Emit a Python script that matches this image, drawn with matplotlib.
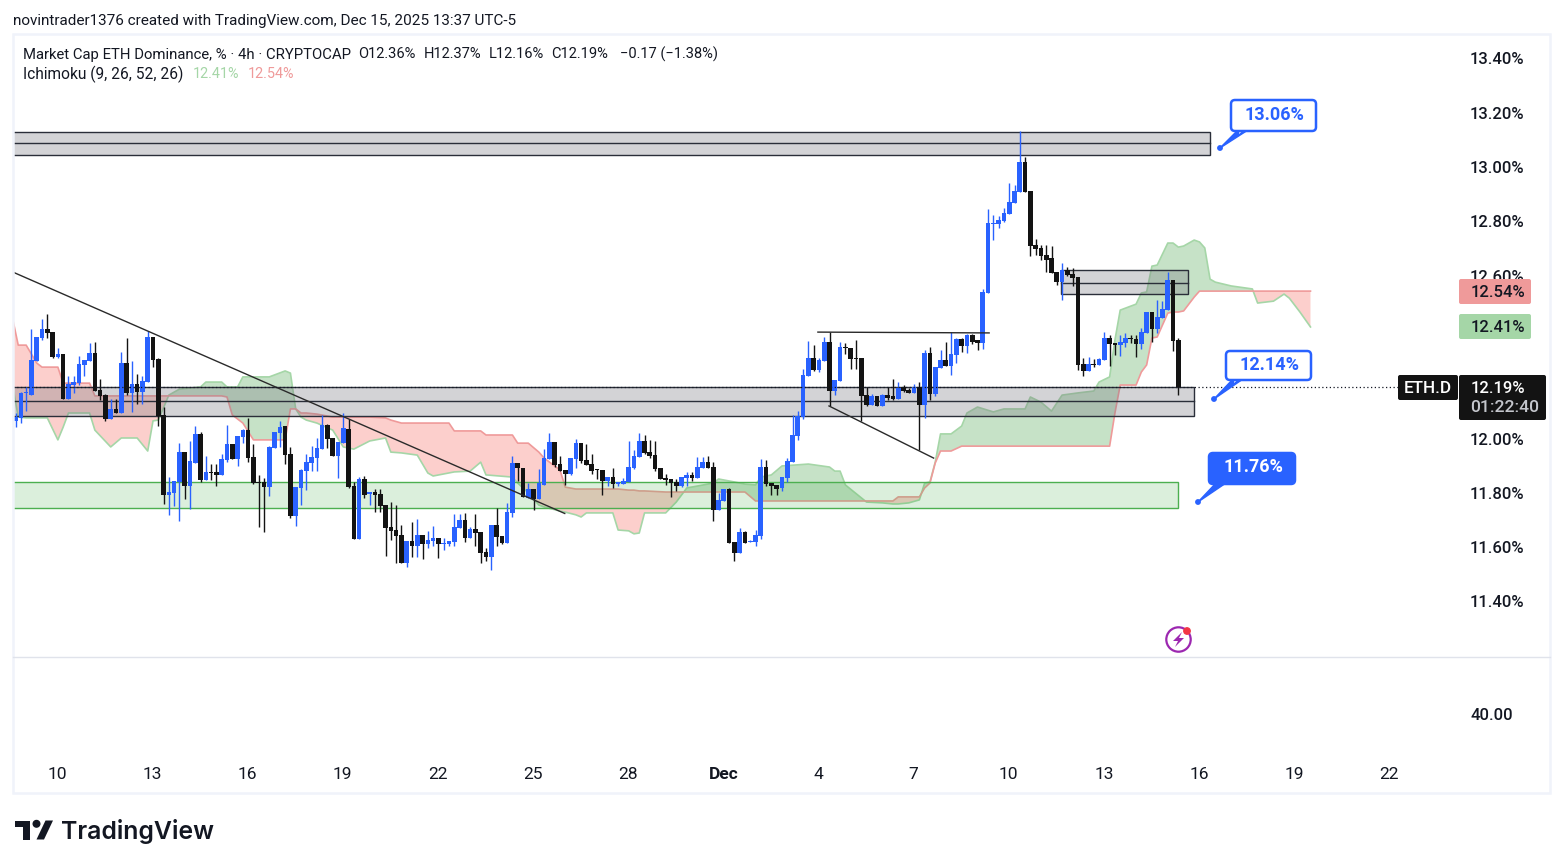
import matplotlib
matplotlib.use('Agg')
from matplotlib import pyplot as plt
from matplotlib.patches import Rectangle, FancyBboxPatch, Polygon, Circle
import numpy as np

plt.rcParams['font.family'] = ['Roboto', 'DejaVu Sans']

# candles, 4h bars
opens = [12.064, 12.077, 12.166, 12.162, 12.287, 12.370, 12.403, 12.392, 12.300, 12.311,
         12.147, 12.197, 12.204, 12.271, 12.287, 12.315, 12.179, 12.160, 12.073, 12.109,
         12.095, 12.278, 12.168, 12.201, 12.171, 12.208, 12.374, 12.293, 12.087, 11.792,
         11.799, 11.840, 11.950, 11.825, 11.910, 12.017, 11.847, 11.877, 11.877, 11.866,
         11.921, 11.980, 11.925, 12.006, 12.031, 11.932, 11.840, 11.840, 11.821, 11.965,
         12.020, 12.046, 11.943, 11.715, 11.818, 11.880, 11.910, 11.928, 11.961, 12.050,
         12.002, 11.936, 11.983, 12.035, 11.825, 11.630, 11.851, 11.796, 11.803, 11.796,
         11.755, 11.674, 11.663, 11.645, 11.543, 11.622, 11.605, 11.645, 11.613, 11.622,
         11.634, 11.613, 11.613, 11.619, 11.670, 11.700, 11.634, 11.667, 11.656, 11.582,
         11.565, 11.681, 11.641, 11.615, 11.726, 11.910, 11.891, 11.781, 11.814, 11.777,
         11.829, 11.925, 11.987, 11.906, 11.884, 11.869, 11.925, 11.983, 11.921, 11.906,
         11.886, 11.884, 11.843, 11.858, 11.832, 11.832, 11.840, 11.891, 11.932, 11.991,
         11.950, 11.939, 11.891, 11.855, 11.851, 11.840, 11.825, 11.855, 11.866, 11.855,
         11.891, 11.913, 11.895, 11.737, 11.770, 11.814, 11.619, 11.578, 11.656, 11.620,
         11.619, 11.641, 11.895, 11.836, 11.829, 11.816, 11.854, 11.913, 12.009, 12.079,
         12.230, 12.297, 12.252, 12.285, 12.355, 12.175, 12.212, 12.337, 12.333, 12.297,
         12.297, 12.160, 12.123, 12.157, 12.120, 12.160, 12.157, 12.146, 12.188, 12.179,
         12.168, 12.190, 12.123, 12.315, 12.164, 12.260, 12.289, 12.267, 12.307, 12.366,
         12.341, 12.381, 12.363, 12.353, 12.535, 12.791, 12.790, 12.801, 12.827, 12.867,
         12.908, 13.018, 12.912, 12.713, 12.702, 12.676, 12.665, 12.613, 12.576, 12.621,
         12.606, 12.595, 12.274, 12.249, 12.273, 12.271, 12.289, 12.370, 12.352, 12.344,
         12.352, 12.369, 12.366, 12.348, 12.389, 12.466, 12.403, 12.444, 12.473, 12.584,
         12.363]
highs = [12.093, 12.173, 12.191, 12.403, 12.374, 12.440, 12.459, 12.392, 12.333, 12.311,
         12.230, 12.230, 12.304, 12.289, 12.352, 12.356, 12.219, 12.164, 12.146, 12.146,
         12.319, 12.370, 12.285, 12.238, 12.230, 12.396, 12.374, 12.297, 12.116, 11.858,
         11.844, 11.983, 11.950, 11.991, 12.046, 12.024, 11.936, 11.906, 11.906, 11.943,
         12.050, 11.980, 12.009, 12.035, 12.076, 11.980, 11.866, 11.853, 11.972, 12.024,
         12.064, 12.046, 11.969, 11.821, 11.888, 11.943, 11.972, 12.002, 12.087, 12.053,
         12.002, 11.987, 12.094, 12.072, 11.840, 11.858, 11.862, 11.803, 11.814, 11.814,
         11.755, 11.767, 11.755, 11.681, 11.622, 11.692, 11.703, 11.645, 11.659, 11.678,
         11.634, 11.634, 11.622, 11.722, 11.722, 11.726, 11.674, 11.722, 11.656, 11.597,
         11.681, 11.744, 11.641, 11.762, 11.936, 11.910, 11.891, 11.836, 11.814, 11.888,
         11.961, 12.020, 11.987, 11.936, 11.884, 11.928, 11.998, 11.983, 11.980, 11.943,
         11.886, 11.884, 11.858, 11.891, 11.840, 11.855, 11.991, 11.958, 12.020, 12.013,
         11.995, 11.991, 11.891, 11.869, 11.851, 11.852, 11.858, 11.877, 11.877, 11.932,
         11.932, 11.936, 11.913, 11.799, 11.814, 11.818, 11.619, 11.670, 11.660, 11.626,
         11.663, 11.924, 11.921, 11.836, 11.829, 11.858, 11.928, 12.087, 12.101, 12.256,
         12.359, 12.344, 12.297, 12.374, 12.392, 12.215, 12.355, 12.352, 12.333, 12.363,
         12.297, 12.188, 12.164, 12.157, 12.164, 12.191, 12.219, 12.208, 12.197, 12.186,
         12.201, 12.208, 12.326, 12.337, 12.263, 12.326, 12.355, 12.392, 12.370, 12.370,
         12.385, 12.385, 12.363, 12.551, 12.845, 12.823, 12.820, 12.849, 12.941, 12.934,
         13.133, 13.037, 12.912, 12.735, 12.713, 12.713, 12.709, 12.613, 12.645, 12.632,
         12.628, 12.595, 12.296, 12.300, 12.293, 12.296, 12.392, 12.381, 12.352, 12.381,
         12.389, 12.381, 12.381, 12.407, 12.466, 12.466, 12.510, 12.507, 12.613, 12.584,
         12.370]
lows = [12.044, 12.058, 12.103, 12.162, 12.287, 12.363, 12.370, 12.298, 12.298, 12.147,
        12.147, 12.169, 12.197, 12.230, 12.287, 12.176, 12.142, 12.066, 12.073, 12.095,
        12.095, 12.160, 12.098, 12.127, 12.127, 12.208, 12.263, 12.046, 11.759, 11.718,
        11.751, 11.696, 11.777, 11.742, 11.910, 11.840, 11.847, 11.847, 11.825, 11.866,
        11.914, 11.925, 11.899, 11.983, 11.914, 11.832, 11.675, 11.657, 11.788, 11.965,
        11.969, 11.906, 11.707, 11.678, 11.755, 11.810, 11.880, 11.880, 11.961, 11.965,
        11.936, 11.855, 11.983, 11.818, 11.630, 11.630, 11.781, 11.755, 11.729, 11.729,
        11.567, 11.626, 11.540, 11.543, 11.528, 11.565, 11.565, 11.556, 11.598, 11.605,
        11.561, 11.591, 11.605, 11.605, 11.670, 11.619, 11.634, 11.605, 11.543, 11.550,
        11.516, 11.605, 11.612, 11.615, 11.711, 11.843, 11.785, 11.781, 11.737, 11.777,
        11.829, 11.925, 11.895, 11.880, 11.829, 11.866, 11.891, 11.910, 11.902, 11.869,
        11.852, 11.792, 11.825, 11.818, 11.825, 11.832, 11.840, 11.888, 11.932, 11.943,
        11.928, 11.880, 11.851, 11.829, 11.785, 11.807, 11.821, 11.825, 11.843, 11.855,
        11.891, 11.891, 11.696, 11.737, 11.770, 11.615, 11.549, 11.578, 11.615, 11.619,
        11.604, 11.631, 11.825, 11.792, 11.792, 11.808, 11.840, 11.913, 11.994, 12.072,
        12.230, 12.249, 12.245, 12.285, 12.120, 12.160, 12.212, 12.311, 12.256, 12.256,
        12.064, 12.120, 12.123, 12.120, 12.120, 12.142, 12.142, 12.146, 12.171, 12.168,
        12.168, 11.958, 12.076, 12.142, 12.157, 12.260, 12.267, 12.234, 12.278, 12.319,
        12.315, 12.348, 12.326, 12.328, 12.535, 12.731, 12.774, 12.797, 12.827, 12.867,
        12.908, 12.908, 12.672, 12.676, 12.657, 12.613, 12.610, 12.565, 12.510, 12.599,
        12.562, 12.252, 12.230, 12.249, 12.263, 12.271, 12.289, 12.267, 12.308, 12.304,
        12.337, 12.352, 12.300, 12.330, 12.389, 12.355, 12.389, 12.444, 12.473, 12.322,
        12.160]
closes = [12.080, 12.169, 12.166, 12.289, 12.374, 12.403, 12.390, 12.300, 12.311, 12.147,
          12.201, 12.208, 12.274, 12.289, 12.315, 12.176, 12.158, 12.073, 12.109, 12.095,
          12.278, 12.168, 12.201, 12.171, 12.212, 12.374, 12.289, 12.083, 11.792, 11.803,
          11.844, 11.950, 11.825, 11.917, 12.017, 11.847, 11.877, 11.874, 11.866, 11.925,
          11.980, 11.925, 12.009, 12.031, 11.928, 11.836, 11.836, 11.821, 11.969, 12.024,
          12.042, 11.939, 11.715, 11.821, 11.884, 11.914, 11.932, 11.965, 12.050, 11.998,
          11.936, 11.987, 12.039, 11.821, 11.630, 11.851, 11.792, 11.803, 11.792, 11.751,
          11.670, 11.659, 11.641, 11.543, 11.622, 11.605, 11.645, 11.613, 11.626, 11.634,
          11.613, 11.615, 11.622, 11.674, 11.700, 11.634, 11.667, 11.652, 11.580, 11.565,
          11.681, 11.637, 11.615, 11.729, 11.910, 11.891, 11.785, 11.814, 11.777, 11.836,
          11.928, 11.987, 11.902, 11.880, 11.869, 11.928, 11.983, 11.917, 11.902, 11.880,
          11.883, 11.843, 11.858, 11.832, 11.840, 11.843, 11.895, 11.936, 11.991, 11.947,
          11.936, 11.888, 11.851, 11.847, 11.836, 11.825, 11.858, 11.866, 11.855, 11.895,
          11.913, 11.891, 11.737, 11.774, 11.814, 11.615, 11.578, 11.656, 11.615, 11.623,
          11.645, 11.895, 11.832, 11.825, 11.814, 11.858, 11.917, 12.013, 12.083, 12.234,
          12.297, 12.252, 12.289, 12.355, 12.175, 12.215, 12.337, 12.333, 12.293, 12.293,
          12.157, 12.123, 12.157, 12.120, 12.160, 12.149, 12.146, 12.186, 12.175, 12.168,
          12.190, 12.123, 12.315, 12.164, 12.263, 12.289, 12.267, 12.311, 12.366, 12.341,
          12.381, 12.355, 12.352, 12.538, 12.793, 12.794, 12.805, 12.831, 12.871, 12.912,
          13.018, 12.908, 12.709, 12.698, 12.672, 12.657, 12.610, 12.576, 12.621, 12.602,
          12.591, 12.271, 12.249, 12.274, 12.271, 12.293, 12.370, 12.348, 12.344, 12.355,
          12.370, 12.366, 12.348, 12.392, 12.466, 12.403, 12.447, 12.477, 12.584, 12.359,
          12.189]

# ichimoku leading spans, sampled at these bars (the cloud runs 26 bars past the last candle)
cloud_bars = [-0.5, 0.5, 2, 4, 5, 6, 8, 9, 10, 14, 15, 18, 20, 23, 25, 26, 27, 29, 31, 35,
              36, 39, 40, 41, 42, 43, 45, 48, 51, 52, 53, 54, 55, 57, 60, 62, 64, 67, 70, 71,
              73, 76, 78, 79, 82, 83, 86, 88, 89, 94, 95, 97, 99, 100, 103, 104, 106, 107, 108, 113,
              114, 116, 117, 118, 119, 123, 125, 127, 129, 132, 133, 136, 138, 140, 141, 143, 145, 150, 154, 155,
              156, 157, 161, 164, 166, 167, 169, 171, 172, 173, 174, 175, 177, 179, 180, 182, 185, 187, 191, 192,
              194, 196, 198, 201, 204, 205, 207, 208, 209, 212, 213, 214, 215, 216, 218, 219, 220, 221, 223, 224,
              225, 226, 227, 230, 234, 235, 238, 240, 241, 243, 245]
span_a = [12.190, 12.079, 12.076, 12.076, 12.076, 12.076, 11.995, 12.042, 12.094, 12.094,
          12.031, 11.969, 12.002, 12.002, 11.954, 12.065, 12.068, 12.160, 12.182, 12.190,
          12.208, 12.208, 12.190, 12.190, 12.190, 12.227, 12.227, 12.227, 12.249, 12.241,
          12.109, 12.079, 12.068, 12.057, 12.031, 11.969, 11.961, 11.991, 12.002, 11.950,
          11.947, 11.939, 11.873, 11.862, 11.873, 11.877, 11.880, 11.913, 11.866, 11.858,
          11.836, 11.800, 11.755, 11.748, 11.733, 11.729, 11.719, 11.711, 11.726, 11.726,
          11.663, 11.660, 11.649, 11.652, 11.726, 11.726, 11.766, 11.818, 11.825, 11.836,
          11.851, 11.840, 11.832, 11.829, 11.858, 11.866, 11.899, 11.906, 11.895, 11.880,
          11.880, 11.829, 11.766, 11.763, 11.759, 11.759, 11.763, 11.774, 11.836, 11.840,
          11.913, 12.017, 12.017, 12.046, 12.094, 12.116, 12.098, 12.109, 12.109, 12.153,
          12.134, 12.101, 12.160, 12.168, 12.175, 12.208, 12.227, 12.363, 12.473, 12.495,
          12.536, 12.540, 12.635, 12.639, 12.720, 12.720, 12.705, 12.709, 12.731, 12.724,
          12.702, 12.587, 12.576, 12.562, 12.551, 12.499, 12.506, 12.532, 12.517, 12.466,
          12.411]
span_b = [12.436, 12.344, 12.344, 12.278, 12.263, 12.263, 12.263, 12.204, 12.204, 12.204,
          12.157, 12.157, 12.157, 12.157, 12.157, 12.157, 12.157, 12.157, 12.157, 12.157,
          12.157, 12.157, 12.153, 12.087, 12.072, 12.057, 11.995, 11.995, 11.995, 12.109,
          12.109, 12.094, 12.094, 12.090, 12.079, 12.079, 12.079, 12.079, 12.076, 12.068,
          12.057, 12.057, 12.057, 12.057, 12.057, 12.028, 12.028, 12.028, 12.013, 12.013,
          11.983, 11.983, 11.950, 11.928, 11.884, 11.821, 11.814, 11.814, 11.814, 11.814,
          11.814, 11.810, 11.810, 11.807, 11.807, 11.803, 11.803, 11.803, 11.803, 11.803,
          11.803, 11.803, 11.803, 11.770, 11.770, 11.770, 11.770, 11.770, 11.770, 11.770,
          11.770, 11.770, 11.770, 11.770, 11.770, 11.785, 11.785, 11.785, 11.818, 11.836,
          11.910, 11.954, 11.954, 11.972, 11.972, 11.972, 11.972, 11.972, 11.972, 11.972,
          11.972, 11.972, 11.972, 11.972, 11.972, 11.972, 11.972, 12.094, 12.197, 12.197,
          12.245, 12.271, 12.370, 12.374, 12.462, 12.466, 12.466, 12.470, 12.521, 12.543,
          12.543, 12.543, 12.543, 12.543, 12.543, 12.543, 12.543, 12.543, 12.543, 12.543,
          12.543]

# drawn zones: price low, middle, high, last bar
top_zone = (13.044, 13.087, 13.129, 225.9)
mid_zone = (12.082, 12.137, 12.191, 222.9)
small_zone = (12.531, 12.574, 12.620, 221.8, 197.8)
green_zone = (11.743, 11.839, 220.0)

# drawn trend lines as (bar, price) pairs
trend_down = ([-0.5, 103.9], [12.613, 11.724])
range_top = ([151.8, 184.2], [12.392, 12.389])
wedge_low = ([153.9, 173.7], [12.120, 11.928])

# 12.20 and 12.40 sit behind the price tags in the reference
price_ticks = [11.4, 11.6, 11.8, 12.0, 12.6, 12.8, 13.0, 13.2, 13.4]
day_labels = ['10', '13', '16', '19', '22', '25', '28', 'Dec', '4', '7', '10', '13', '16', '19', '22']
last_close = 12.19

W, H = 1563, 868
UP = '#2962ff'
DOWN = '#131313'
TEXT = '#131722'

fig = plt.figure(figsize=(W / 100, H / 100), dpi=100, facecolor='white')


def pane(left, top, right, bottom):
    return fig.add_axes([left / W, 1 - bottom / H, (right - left) / W, (bottom - top) / H])


ax = pane(13, 34, 1459, 656)
ax.set_xlim(-0.49, 273.1)
ax.set_ylim(11.199, 13.490)
for s in ax.spines.values():
    s.set_visible(False)
ax.set_xticks([])
ax.yaxis.tick_right()
ax.set_yticks(price_ticks)
ax.set_yticklabels(['%.2f%%' % p for p in price_ticks], fontsize=12, color=TEXT, fontweight='medium')
ax.tick_params(axis='y', length=0, pad=8)

# cloud
ca = np.array(span_a)
cb = np.array(span_b)
ax.fill_between(cloud_bars, ca, cb, where=ca >= cb, interpolate=True, color='#43a047', alpha=0.3, lw=0, zorder=1)
ax.fill_between(cloud_bars, ca, cb, where=ca < cb, interpolate=True, color='#f44336', alpha=0.25, lw=0, zorder=1)
ax.plot(cloud_bars, span_a, color='#a5d6a7', lw=1.2, zorder=1.5)
ax.plot(cloud_bars, span_b, color='#ef9a9a', lw=1.2, zorder=1.5)


def gray_zone(low, mid, high, end, start=-3):
    ax.add_patch(Rectangle((start, low), end - start, high - low, facecolor='#787880', alpha=0.32, lw=0, zorder=2))
    ax.add_patch(Rectangle((start, low), end - start, high - low, fill=False, edgecolor='#2a2e39', lw=1, zorder=2))
    ax.plot([start, end], [mid, mid], color='#2a2e39', lw=1, zorder=2, scalex=False)


gray_zone(*top_zone)
gray_zone(*mid_zone)
gray_zone(small_zone[0], small_zone[1], small_zone[2], small_zone[3], small_zone[4])
ax.add_patch(Rectangle((-3, green_zone[0]), green_zone[2] + 3, green_zone[1] - green_zone[0],
                       facecolor='#4caf50', alpha=0.2, lw=0, zorder=2))
ax.add_patch(Rectangle((-3, green_zone[0]), green_zone[2] + 3, green_zone[1] - green_zone[0],
                       fill=False, edgecolor='#4caf50', lw=1, zorder=2))

# candles
bars = np.arange(len(opens))
o = np.array(opens)
c = np.array(closes)
colors = [UP if b >= a else DOWN for a, b in zip(opens, closes)]
ax.vlines(bars, lows, highs, colors=colors, lw=1, zorder=3)
ax.bar(bars, np.maximum(np.abs(c - o), 0.004), bottom=np.minimum(o, c), width=0.88, color=colors, lw=0, zorder=3)

for xs, ys in (trend_down, range_top, wedge_low):
    ax.plot(xs, ys, color='#2a2a2a', lw=1, zorder=4)

# dotted last price line, runs on to the tag
ax.plot([-0.49, 262], [last_close, last_close], color='#131722', lw=0.9, ls=(0, (1, 2)), zorder=4)
ax.set_xlim(-0.49, 273.1)

# lower pane with the time scale
low = pane(13, 656, 1459, 756)
low.set_xlim(-0.49, 273.1)
low.set_ylim(0, 95.2)
for s in low.spines.values():
    s.set_visible(False)
low.yaxis.tick_right()
low.set_yticks([40])
low.set_yticklabels(['40.00'], fontsize=12, color=TEXT, fontweight='medium')
low.tick_params(axis='y', length=0, pad=8)
day_bars = [7.9 + 18 * k for k in range(len(day_labels))]
low.set_xticks(day_bars)
low.set_xticklabels(day_labels, fontsize=12.5, color=TEXT)
low.get_xticklabels()[7].set_fontweight('bold')
low.tick_params(axis='x', length=0, pad=8)

# overlay in picture pixels for the TradingView chrome
px = fig.add_axes([0, 0, 1, 1], facecolor='none')
px.set_xlim(0, W)
px.set_ylim(H, 0)
px.axis('off')

px.add_patch(Rectangle((13, 34), 1537, 759, fill=False, edgecolor='#f0f3fa', lw=1.8))
px.plot([13, 1550], [656.5, 656.5], color='#e0e3eb', lw=1)

px.text(13, 20.5, 'novintrader1376 created with TradingView.com, Dec 15, 2025 13:37 UTC-5',
        fontsize=10.95, color=TEXT, va='center')
px.text(23, 54.5, 'Market Cap ETH Dominance, % · 4h · CRYPTOCAP', fontsize=10.7, color=TEXT, va='center')
for x, t in ((358, 'O12.36%'), (424, 'H12.37%'), (489, 'L12.16%'), (551, 'C12.19%'), (620, '−0.17 (−1.38%)')):
    px.text(x, 54.5, t, fontsize=10.5, color=TEXT, va='center')
px.text(23, 74.5, 'Ichimoku (9, 26, 52, 26)', fontsize=11.2, color=TEXT, va='center')
px.text(193, 74.5, '12.41%', fontsize=10.4, color='#a5d6a7', va='center')
px.text(248, 74.5, '12.54%', fontsize=10.4, color='#ef9a9a', va='center')


def tag(x0, y0, x1, y1, color):
    px.add_patch(FancyBboxPatch((x0 + 1, y0 + 1), x1 - x0 - 2, y1 - y0 - 2, boxstyle='round,pad=1,rounding_size=2',
                                facecolor=color, edgecolor='none'))


tag(1459, 279, 1531, 304, '#ef9a9a')
px.text(1498, 292.5, '12.54%', fontsize=12, color=TEXT, ha='center', va='center', fontweight='medium')
tag(1459, 314, 1531, 339, '#a5d6a7')
px.text(1498, 327.5, '12.41%', fontsize=12, color=TEXT, ha='center', va='center', fontweight='medium')
tag(1398, 375, 1458, 400, '#131313')
px.text(1428, 388.5, 'ETH.D', fontsize=12.3, color='white', ha='center', va='center', fontweight='medium')
tag(1459, 375, 1546, 420, '#131313')
px.text(1498, 388.5, '12.19%', fontsize=12, color='white', ha='center', va='center', fontweight='medium')
px.text(1505, 408, '01:22:40', fontsize=12.6, color='#c4c6cc', ha='center', va='center', fontweight='medium')


def callout(x0, y0, x1, y1, dot, text, filled):
    face = UP if filled else 'white'
    px.add_patch(Polygon([(x0 + 7, y1 - 1), (x0 + 17, y1 - 1), dot], closed=True, facecolor=UP, edgecolor=UP, lw=1))
    if not filled:
        px.add_patch(Polygon([(x0 + 9, y1 - 3), (x0 + 15, y1 - 3), (x0 + 8, y1 + 3)], closed=True,
                             facecolor='white', edgecolor='none'))
    px.add_patch(FancyBboxPatch((x0 + 3, y0 + 3), x1 - x0 - 6, y1 - y0 - 6, boxstyle='round,pad=3,rounding_size=4',
                                facecolor=face, edgecolor=UP, lw=1.8))
    px.add_patch(Circle(dot, 2.2, color=UP))
    px.text((x0 + x1) / 2 + 1, (y0 + y1) / 2 - 1, text, fontsize=13, fontweight='bold',
            color='white' if filled else UP, ha='center', va='center')


callout(1231, 100, 1316, 131, (1220, 148), '13.06%', False)
callout(1226, 351, 1311, 380, (1214, 399), '12.14%', False)
callout(1209, 453, 1295, 484, (1198, 502), '11.76%', True)

# bolt badge
px.add_patch(Circle((1178.5, 639.5), 12.2, fill=False, edgecolor='#9c27b0', lw=1.6))
px.add_patch(Polygon([(1182, 632), (1173, 641), (1178, 641), (1175, 647), (1184, 638), (1179, 638)],
                     closed=True, facecolor='#9c27b0', edgecolor='none'))
px.add_patch(Circle((1187, 631), 3.2, color='#f23645'))

# logo
px.add_patch(Polygon([(15, 820.5), (30, 820.5), (30, 839.5), (22.5, 839.5), (22.5, 827), (15, 827)],
                     closed=True, facecolor='#131722', edgecolor='none'))
px.add_patch(Circle((36.5, 823.8), 3.3, color='#131722'))
px.add_patch(Polygon([(45.5, 820.5), (53, 820.5), (44, 839.5), (36.5, 839.5)],
                     closed=True, facecolor='#131722', edgecolor='none'))
px.text(61, 831, 'TradingView', fontsize=17.9, fontweight='semibold', family='Inter', color='#131722', va='center')

fig.savefig('out.png', dpi=100)
